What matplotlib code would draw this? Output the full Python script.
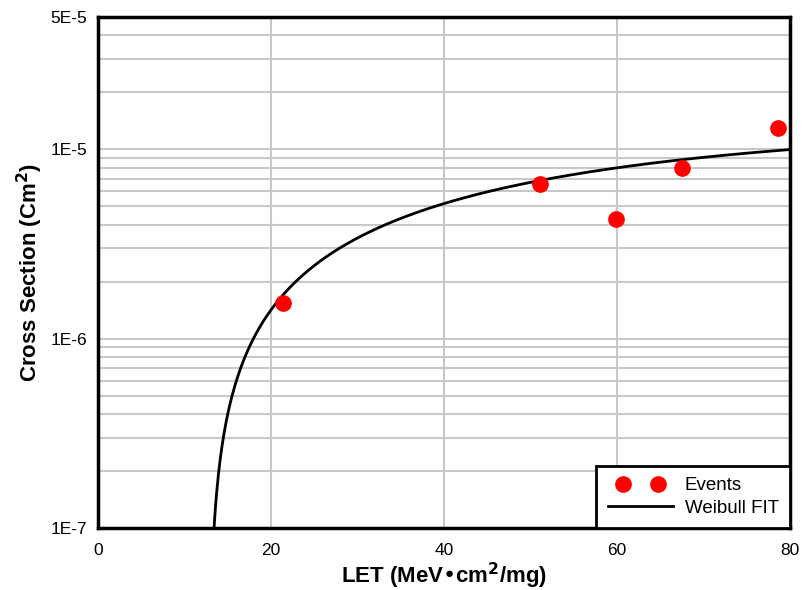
import numpy as np
import matplotlib.pyplot as plt
from matplotlib.legend_handler import HandlerLine2D
from matplotlib.ticker import FixedLocator, LogLocator, NullFormatter

plt.rcParams["font.family"] = ["Liberation Sans", "DejaVu Sans"]

# measured events
let_events = [21.4, 51.1, 59.9, 67.5, 78.6]
xs_events = [1.54e-6, 6.55e-6, 4.27e-6, 7.95e-6, 1.30e-5]

# Weibull fit parameters
sigma_sat = 1.4e-5
let_0 = 12.8
width = 55.0
shape = 1.1

x_ticks = [0, 20, 40, 60, 80]
y_ticks = [1e-7, 1e-6, 1e-5, 5e-5]
y_tick_labels = ["1E-7", "1E-6", "1E-5", "5E-5"]

let_fit = np.linspace(let_0, 80, 600)
xs_fit = sigma_sat * (1 - np.exp(-((let_fit - let_0) / width) ** shape))
xs_fit[0] = 1e-8

fig = plt.figure(figsize=(8.03, 5.90), dpi=100)
ax = fig.add_axes([98 / 803, 62 / 590, 692 / 803, 511 / 590])

ax.set_yscale("log")
ax.set_xlim(0, 80)
ax.set_ylim(1e-7, 5e-5)

ax.yaxis.set_major_locator(FixedLocator(y_ticks))
ax.set_yticklabels(y_tick_labels)
ax.yaxis.set_minor_locator(LogLocator(base=10, subs=np.arange(2, 10)))
ax.yaxis.set_minor_formatter(NullFormatter())
ax.set_xticks(x_ticks)

ax.grid(True, which="both", axis="y", color="#c8c8c8", linewidth=1.5)
ax.grid(True, which="major", axis="x", color="#c8c8c8", linewidth=1.5)
ax.set_axisbelow(True)

fit_line, = ax.plot(let_fit, xs_fit, color="black", linewidth=2,
                    label="Weibull FIT", zorder=3)
ev_line, = ax.plot(let_events, xs_events, "o", color="#ff0000", markersize=11,
                   linestyle="none", label="Events", zorder=4)

leg = ax.legend([ev_line, fit_line], ["Events", "Weibull FIT"], loc="lower right",
                handler_map={ev_line: HandlerLine2D(numpoints=2, marker_pad=0.8)},
                fancybox=False, framealpha=1, edgecolor="black", fontsize=13.5,
                borderaxespad=0, handlelength=3.5, handletextpad=0.6,
                borderpad=0.6, labelspacing=0.28)
leg.get_frame().set_linewidth(2)

for s in ax.spines.values():
    s.set_linewidth(2.5)
ax.tick_params(which="both", length=0, labelsize=12.5)
ax.tick_params(axis="x", pad=11)
ax.tick_params(axis="y", pad=8)

ax.set_xlabel("LET (MeV\u2022cm$^{\\mathbf{2}}$/mg)", fontsize=16, fontweight="bold",
              labelpad=2)
ax.set_ylabel("Cross Section (Cm$^{\\mathbf{2}}$)", fontsize=16, fontweight="bold",
              labelpad=4)

fig.savefig("out.png", dpi=100)
